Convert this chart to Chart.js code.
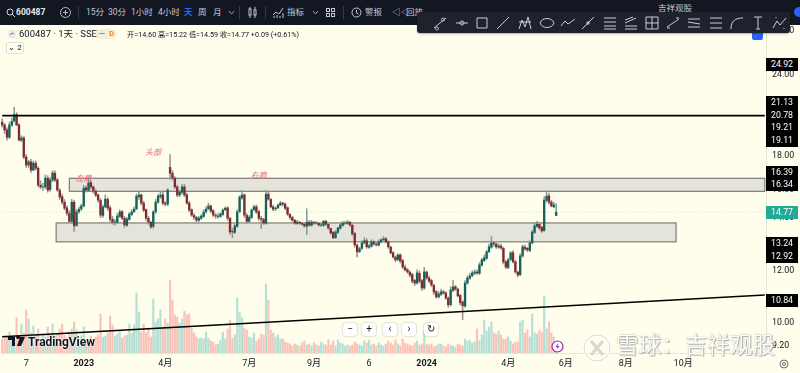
<!DOCTYPE html>
<html>
<head>
<meta charset="utf-8">
<title>600487</title>
<script src="https://cdn.jsdelivr.net/npm/chart.js@4/dist/chart.umd.min.js"></script>
<style>
html, body { margin: 0; padding: 0; background: #fffdec; overflow: hidden; }
body { width: 800px; height: 373px; position: relative; font-family: Roboto, "Noto Sans CJK SC", sans-serif; color: #131722; }
#chartBox { position: absolute; left: 0; top: 0; width: 800px; height: 373px; }
.abs { position: absolute; white-space: nowrap; line-height: 1; }
#topBar { position: absolute; left: 0; top: 0; width: 800px; height: 25px; background: #131722; }
#topBar .t { position: absolute; top: 8px; font-size: 8.5px; color: #c4c8d0; white-space: nowrap; line-height: 1; }
#drawBar { position: absolute; left: 417px; top: 12px; width: 373px; height: 21px; background: #1e222d; border-radius: 3px; box-shadow: 0 1px 2px rgba(0,0,0,.3); }
.tag { position: absolute; left: 766px; width: 32px; height: 13px; background: #000; color: #fff; font-size: 8.8px; line-height: 13px; text-align: center; }
.btn { position: absolute; top: 323px; width: 14px; height: 13px; background: #fff; border-radius: 3px; box-shadow: 0 0 2px rgba(0,0,0,.35); font-size: 10px; line-height: 12px; text-align: center; color: #131722; }
svg { position: absolute; overflow: visible; }
</style>
</head>
<body>
<div id="chartBox"><canvas id="priceChart" width="800" height="373"></canvas></div>

<div id="topBar">
  <svg style="left:6px;top:8px" width="9" height="9" fill="none" stroke="#d5d8de"><circle cx="4" cy="4" r="3"/><path d="M6 6l3 3"/></svg>
  <span class="t" style="left:16px;color:#e6e8ec;font-weight:700">600487</span>
  <svg style="left:60px;top:7px" width="11" height="11" fill="none" stroke="#b8bcc6"><circle cx="5.5" cy="5.5" r="5"/><path d="M3 5.5h5M5.5 3v5"/></svg>
  <svg style="left:78px;top:6px" width="1" height="13"><path d="M.5 0v13" stroke="#363a45"/></svg>
  <span class="t" style="left:86px">15分</span>
  <span class="t" style="left:108px">30分</span>
  <span class="t" style="left:131px">1小时</span>
  <span class="t" style="left:158px">4小时</span>
  <span class="t" style="left:184px;color:#2962ff;font-weight:700">天</span>
  <span class="t" style="left:198px">周</span>
  <span class="t" style="left:213px">月</span>
  <svg style="left:228px;top:11px" width="7" height="4" fill="none" stroke="#9a9ea8"><path d="M1 0l2.5 3L6 0"/></svg>
  <svg style="left:239px;top:6px" width="1" height="13"><path d="M.5 0v13" stroke="#363a45"/></svg>
  <svg style="left:248px;top:7px" width="9" height="11" fill="none" stroke="#c4c8d0"><path d="M2 0v11M7 0v11"/><rect x="1" y="2" width="2" height="6" fill="#131722"/><rect x="6" y="3" width="2" height="5" fill="#131722"/></svg>
  <svg style="left:265px;top:6px" width="1" height="13"><path d="M.5 0v13" stroke="#363a45"/></svg>
  <svg style="left:273px;top:7px" width="11" height="11" fill="none" stroke="#c4c8d0"><path d="M0 8l3-3 3 2 4-6M1 11V9M4 11V8M7 11V9M10 11V6"/></svg>
  <span class="t" style="left:287px">指标</span>
  <svg style="left:312px;top:11px" width="7" height="4" fill="none" stroke="#9a9ea8"><path d="M1 0l2.5 3L6 0"/></svg>
  <svg style="left:326px;top:8px" width="9" height="9" fill="none" stroke="#c4c8d0"><rect x=".5" y=".5" width="3" height="3"/><rect x="5.5" y=".5" width="3" height="3"/><rect x=".5" y="5.5" width="3" height="3"/><rect x="5.5" y="5.5" width="3" height="3"/></svg>
  <svg style="left:343px;top:6px" width="1" height="13"><path d="M.5 0v13" stroke="#363a45"/></svg>
  <svg style="left:351px;top:7px" width="11" height="11" fill="none" stroke="#c4c8d0"><circle cx="5.5" cy="5.5" r="4.5"/><path d="M5.5 3v3l2 1"/></svg>
  <span class="t" style="left:365px">警报</span>
  <span class="t" style="left:392px">◁◁</span>
  <span class="t" style="left:406px">回放</span>
  <span class="t" style="left:658px;top:4px">吉祥观股</span>
  <svg style="left:794px;top:7px" width="10" height="10"><circle cx="5" cy="5" r="5" fill="#2962ff"/></svg>
</div>
<div class="abs" style="left:752px;top:33px;width:11px;height:7px;background:#2962ff;border-radius:0 0 2px 2px"></div>
<div id="drawBar"></div>

<svg style="left:7px;top:29px" width="10" height="10"><circle cx="5" cy="5" r="4.5" fill="#e8ecf4"/><path d="M3 6l2-2 2 1" stroke="#d0504f" fill="none"/></svg>
<span class="abs" style="left:19px;top:29px;font-size:9.5px">600487 · 1天 · SSE</span>
<div class="abs" style="left:96px;top:29px;width:21px;height:10px;border-radius:5px;background:#efeee0"></div>
<span class="abs" style="left:99px;top:30px;font-size:8px;color:#787b86;font-weight:700">—</span>
<div class="abs" style="left:107px;top:29px;width:10px;height:10px;border-radius:5px;background:#fff1d6"></div>
<span class="abs" style="left:109px;top:30px;font-size:8px;color:#f68410;font-weight:700">D</span>
<span class="abs" style="left:127px;top:31px;font-size:7.2px">开=14.60 高=15.22 低=14.59 收=14.77 +0.09 (+0.61%)</span>
<div class="abs" style="left:6px;top:42px;width:16px;height:10px;border:1px solid #e0dfd0;border-radius:2px;background:#fffef5;font-size:8px;line-height:10px;text-align:center">⌄ 2</div>

<div class="tag" style="top:58px">24.92</div>
<div class="tag" style="top:96px">21.13</div>
<div class="tag" style="top:109px">20.78</div>
<div class="tag" style="top:121px">19.21</div>
<div class="tag" style="top:134px">19.11</div>
<div class="tag" style="top:166px">16.39</div>
<div class="tag" style="top:178px">16.34</div>
<div class="tag" style="top:206px;background:#22ab94">14.77</div>
<div class="tag" style="top:237px">13.24</div>
<div class="tag" style="top:250px">12.92</div>
<div class="tag" style="top:294px">10.84</div>

<div class="btn" style="left:343px">−</div>
<div class="btn" style="left:362px">+</div>
<div class="btn" style="left:383px">‹</div>
<div class="btn" style="left:402px">›</div>
<div class="btn" style="left:424px">↻</div>

<svg style="left:8px;top:337px" width="18" height="10" fill="#131722"><path d="M0 0h7v9H4V3H0zM8 0a2 2 0 1 1 0 .01M12 0h5l-4 9H9z"/></svg>
<span class="abs" style="left:28px;top:336px;font-size:12px;font-weight:700;letter-spacing:-.05px;text-shadow:0 0 2px #fff,0 0 2px #fff">TradingView</span>

<svg style="left:551px;top:340px" width="13" height="13"><circle cx="6.5" cy="6.5" r="5.5" fill="#fff" stroke="#9c27b0" stroke-width="1.2"/><path d="M7.5 3L4.5 7h2l-1 3 3-4h-2z" fill="#9c27b0"/></svg>
<svg style="left:582px;top:333px" width="30" height="30" fill="none"><circle cx="15" cy="15" r="13" stroke="#fff" stroke-width="3"/><circle cx="15" cy="15" r="13" stroke="#bdbdb5" stroke-width=".6"/><path d="M9 8l12 14M21 8L9 22" stroke="#d8d8d0" stroke-width="3"/></svg>
<span class="abs" style="left:616px;top:334px;font-size:22.5px;color:#fff;letter-spacing:.3px;text-shadow:0 0 1px #8d8d86,1px 1px 1px #b0b0a8">雪球：吉祥观股</span>
<svg style="left:779px;top:359px" width="10" height="10" fill="none" stroke="#6a6d78"><circle cx="5" cy="5" r="4"/><circle cx="5" cy="5" r="1.5"/></svg>

<script>
// bar slots on the time axis, the right part is the empty future space
const slotCount = 319;
const tickSlots = [10, 34, 68, 103, 130, 153, 177, 211, 235, 260, 284];
const tickNames = ['7', '2023', '4月', '7月', '9月', '6', '2024', '4月', '6月', '8月', '10月'];
const priceTicks = [28, 24, 18, 16, 14.5, 12, 10, 9.2];

const closes = [
  20.10,19.75,19.25,20.10,20.35,20.85,20.10,19.06,19.20,17.95,
  17.45,17.64,17.14,17.57,17.26,16.26,16.15,16.15,16.67,15.97,
  16.55,16.97,16.55,15.97,15.58,15.30,14.98,14.72,14.30,15.30,
  14.07,14.78,14.93,15.10,16.08,15.97,16.38,16.15,15.92,15.69,
  15.41,14.62,15.05,15.47,14.98,14.41,14.26,14.26,14.57,14.78,
  14.46,14.12,14.41,14.67,14.78,14.93,15.63,15.69,15.25,14.88,
  14.46,14.26,14.02,14.78,15.30,15.63,15.69,15.25,15.20,15.97,
  16.95,16.67,16.15,15.69,15.86,16.15,15.69,15.25,14.88,14.62,
  14.51,14.36,14.46,14.57,14.78,14.93,15.10,14.83,14.62,14.57,
  14.57,14.67,14.88,14.98,14.46,13.77,13.77,14.07,14.78,15.58,
  15.69,14.62,14.30,14.51,14.88,15.05,14.78,14.46,14.41,14.21,
  15.74,15.47,15.05,14.93,14.98,15.15,15.25,15.20,14.98,14.67,
  14.51,14.36,14.21,14.26,14.21,14.16,14.07,14.26,14.12,14.26,
  14.21,14.21,14.12,14.12,14.30,14.16,13.97,13.73,13.49,13.77,
  13.97,14.12,14.21,14.21,14.26,14.12,13.68,13.16,12.84,12.98,
  13.25,13.35,13.07,13.11,13.30,13.21,13.16,13.30,13.39,13.44,
  13.30,13.07,12.79,12.61,12.48,12.70,12.43,12.17,12.04,11.96,
  11.83,11.58,11.50,11.92,11.58,11.30,11.96,11.71,11.58,11.42,
  11.14,10.95,11.06,11.14,11.10,10.91,10.65,11.22,11.34,11.26,
  10.99,10.73,10.61,11.50,11.71,11.79,11.92,11.96,11.92,12.26,
  12.48,12.57,12.84,13.07,13.25,13.21,13.07,13.11,13.02,12.39,
  12.17,12.48,12.79,12.39,11.96,11.83,12.66,13.07,12.98,12.93,
  13.25,13.77,14.07,14.16,13.97,13.82,15.41,15.63,15.30,15.10,
  15.15,14.77
];
const opens = [
  20.30,20.10,19.75,19.25,20.10,20.40,20.85,20.10,19.05,19.20,
  17.95,17.45,17.64,17.14,17.55,17.25,16.25,16.15,16.15,16.65,
  16.00,16.55,16.95,16.55,15.95,15.60,15.30,15.00,14.70,14.30,
  15.30,14.10,14.80,14.95,15.10,16.10,15.95,16.40,16.15,15.90,
  15.70,15.40,14.60,15.05,15.45,15.00,14.40,14.25,14.25,14.55,
  14.80,14.45,14.10,14.40,14.65,14.80,14.95,15.60,15.70,15.25,
  14.90,14.45,14.25,14.05,14.80,15.30,15.60,15.70,15.25,15.20,
  17.30,16.95,16.65,16.15,15.70,15.85,16.15,15.70,15.25,14.90,
  14.60,14.50,14.35,14.45,14.55,14.80,14.95,15.10,14.85,14.60,
  14.55,14.55,14.65,14.90,15.00,14.45,13.80,13.75,14.05,14.80,
  15.55,15.70,14.60,14.30,14.50,14.90,15.05,14.80,14.45,14.40,
  14.20,15.75,15.45,15.05,14.95,15.00,15.15,15.25,15.20,15.00,
  14.65,14.50,14.35,14.20,14.25,14.20,14.15,14.05,14.25,14.10,
  14.25,14.20,14.20,14.10,14.10,14.30,14.15,13.95,13.75,13.50,
  13.75,13.95,14.10,14.20,14.20,14.25,14.10,13.70,13.15,12.85,
  13.00,13.25,13.35,13.05,13.10,13.30,13.20,13.15,13.30,13.40,
  13.45,13.30,13.05,12.80,12.60,12.50,12.70,12.45,12.15,12.05,
  11.95,11.85,11.60,11.50,11.90,11.60,11.30,11.95,11.70,11.60,
  11.40,11.15,10.95,11.05,11.15,11.10,10.90,10.65,11.20,11.35,
  11.25,11.00,10.75,10.60,11.50,11.70,11.80,11.90,11.95,11.90,
  12.25,12.45,12.55,12.85,13.05,13.25,13.20,13.05,13.10,13.00,
  12.40,12.15,12.50,12.80,12.40,11.95,11.85,12.65,13.05,13.00,
  12.90,13.25,13.75,14.05,14.15,14.00,13.85,15.40,15.65,15.30,
  15.05,14.60
];
const highs = [
  20.55,20.20,19.90,20.30,20.60,21.40,21.00,20.20,19.35,19.30,
  18.10,17.75,17.80,17.70,17.70,17.35,16.50,16.35,16.85,16.80,
  16.70,17.10,17.10,16.65,16.05,15.75,15.45,15.10,14.85,15.45,
  15.40,14.90,15.05,15.20,16.25,16.20,16.70,16.50,16.20,16.00,
  15.75,15.50,15.15,15.70,15.55,15.10,14.55,14.40,14.70,14.90,
  14.85,14.55,14.50,14.75,14.90,15.05,15.75,15.85,15.75,15.35,
  14.95,14.55,14.30,14.85,15.45,15.75,15.90,15.85,15.35,16.05,
  18.10,17.10,16.75,16.25,15.95,16.30,16.30,15.80,15.35,14.95,
  14.70,14.55,14.55,14.65,14.90,15.05,15.25,15.15,14.90,14.70,
  14.70,14.75,14.95,15.05,15.05,14.50,13.95,14.15,14.90,15.65,
  15.95,15.75,14.70,14.60,14.95,15.15,15.15,14.85,14.55,14.45,
  15.95,15.85,15.50,15.15,15.05,15.20,15.35,15.30,15.25,15.05,
  14.70,14.55,14.40,14.35,14.30,14.25,14.20,14.95,14.35,14.35,
  14.30,14.30,14.25,14.20,14.35,14.35,14.20,13.95,13.80,13.85,
  14.00,14.20,14.30,14.30,14.35,14.30,14.15,13.75,13.20,13.05,
  13.35,13.50,13.45,13.20,13.40,13.35,13.25,13.40,13.45,13.55,
  13.50,13.35,13.10,12.85,12.65,12.75,12.75,12.50,12.25,12.10,
  12.00,11.90,11.65,12.05,12.00,11.65,12.15,12.00,11.80,11.65,
  11.45,11.20,11.15,11.25,11.20,11.15,10.95,11.35,11.60,11.40,
  11.30,11.05,10.80,11.60,11.80,11.90,12.00,12.05,12.05,12.35,
  12.55,12.70,12.90,13.20,13.55,13.30,13.25,13.20,13.20,13.05,
  12.45,12.55,12.85,12.90,12.45,12.00,12.75,13.15,13.15,13.05,
  13.35,13.85,14.20,14.30,14.25,14.05,15.60,15.95,15.80,15.40,
  15.30,15.22
];
const lows = [
  19.95,19.50,19.05,19.15,20.00,20.30,20.05,19.00,18.95,17.85,
  17.30,17.30,17.00,17.10,17.15,16.15,16.05,15.95,16.05,15.85,
  15.90,16.45,16.45,15.90,15.45,15.20,14.90,14.60,14.25,14.20,
  13.80,14.05,14.70,14.85,15.05,15.85,15.90,16.05,15.80,15.60,
  15.30,14.50,14.50,15.00,14.85,14.30,14.15,14.10,14.20,14.50,
  14.40,14.00,14.05,14.35,14.60,14.75,14.90,15.45,15.15,14.80,
  14.35,14.15,13.95,13.95,14.70,15.25,15.50,15.15,15.10,15.10,
  16.60,16.55,16.05,15.60,15.60,15.75,15.60,15.20,14.80,14.55,
  14.40,14.25,14.30,14.40,14.50,14.70,14.90,14.75,14.55,14.45,
  14.45,14.50,14.60,14.85,14.35,13.65,13.50,13.70,14.00,14.75,
  15.45,14.50,14.20,14.25,14.45,14.85,14.70,14.35,13.95,14.15,
  14.15,15.40,15.00,14.85,14.85,14.95,15.10,15.10,14.90,14.60,
  14.40,14.30,14.15,14.15,14.15,14.10,14.00,13.65,14.05,14.05,
  14.15,14.15,14.05,14.05,14.05,14.10,13.90,13.65,13.45,13.45,
  13.70,13.90,14.05,14.15,14.15,14.05,13.60,13.05,12.60,12.80,
  12.95,13.20,13.00,13.00,13.05,13.15,13.10,13.10,13.25,13.35,
  13.25,13.00,12.75,12.55,12.40,12.45,12.35,12.10,12.00,11.90,
  11.75,11.50,11.40,11.45,11.50,11.20,11.25,11.65,11.50,11.35,
  11.05,10.90,10.90,11.00,11.05,10.85,10.55,10.60,11.15,11.20,
  10.95,10.65,10.10,10.55,11.45,11.65,11.75,11.85,11.85,11.85,
  12.20,12.40,12.50,12.80,13.00,13.10,13.00,13.00,12.95,12.30,
  12.10,12.10,12.45,12.35,11.90,11.75,11.80,12.60,12.90,12.85,
  12.85,13.20,13.70,14.00,13.90,13.75,13.80,15.30,15.20,15.05,
  15.00,14.59
];
const volumes = [
  14,17,16,21,13,15,35,17,29,20,
  43,34,20,27,18,24,14,19,16,26,
  19,29,17,19,24,29,18,15,21,24,
  31,23,14,17,26,12,13,17,14,16,
  18,39,16,17,20,37,28,17,19,22,
  15,17,18,29,20,28,60,41,21,29,
  20,24,16,54,31,34,43,26,34,30,
  73,53,38,36,30,34,42,38,39,25,
  20,16,14,15,14,21,15,12,11,8,
  9,13,21,14,24,33,15,18,55,41,
  35,25,23,16,15,20,12,14,19,18,
  69,53,23,20,16,18,14,14,11,10,
  9,7,9,8,7,10,12,8,9,7,
  10,8,7,11,9,8,13,8,12,7,
  13,10,9,7,8,7,8,11,9,8,
  7,12,10,13,8,9,7,10,8,7,
  9,12,10,8,13,9,7,14,10,9,
  8,7,10,12,8,9,21,9,8,9,
  6,7,9,9,7,6,9,8,7,6,
  9,8,7,14,12,13,10,11,24,12,
  18,33,22,26,31,20,19,22,18,14,
  14,16,12,9,11,11,31,33,20,23,
  16,39,20,19,23,21,57,24,31,20,
  16,10
];

const zoneStartSlots = [28, 22.5];
const zoneEndSlots = [318, 281];
const zoneTops = [16.65, 14.22];
const zoneBottoms = [15.9, 13.30];
const noteNames = ['左肩', '头部', '右肩'];
const noteSlots = [34, 63, 107];
const notePrices = [16.5, 18.05, 16.65];

const lastPrice = 14.77;
const resistance = 20.78;
const trendStart = 9.51;
const trendEnd = 11.02;

const slots = Array.from({ length: slotCount }, (_, i) => i);

function edgeLine(first, last) {
    const line = new Array(slotCount).fill(null);
    line[0] = first;
    line[slotCount - 1] = last;
    return line;
}

// shaded zones and the red notes are placed through the chart's own scales
const overlayPlugin = {
    id: 'overlay',
    beforeDatasetsDraw(chart) {
        const { ctx, scales: { x, y } } = chart;
        ctx.save();
        zoneTops.forEach((top, i) => {
            const x0 = x.getPixelForValue(zoneStartSlots[i]);
            const x1 = x.getPixelForValue(zoneEndSlots[i]);
            const y0 = y.getPixelForValue(top);
            const y1 = y.getPixelForValue(zoneBottoms[i]);
            ctx.fillStyle = '#e5e4da';
            ctx.fillRect(x0, y0, x1 - x0, y1 - y0);
            ctx.strokeStyle = '#7d7d73';
            ctx.lineWidth = 1.2;
            ctx.strokeRect(x0, y0, x1 - x0, y1 - y0);
        });
        ctx.restore();
    },
    afterDatasetsDraw(chart) {
        const { ctx, scales: { x, y } } = chart;
        ctx.save();
        ctx.fillStyle = '#ef5f6e';
        ctx.font = 'italic 8px "Noto Sans CJK SC"';
        ctx.textAlign = 'center';
        noteNames.forEach((name, i) => {
            ctx.fillText(name, x.getPixelForValue(noteSlots[i]), y.getPixelForValue(notePrices[i]));
        });
        ctx.restore();
    }
};

const upBody = '#17615a', downBody = '#7d2a30';
const upWick = '#7f9f9a', downWick = '#a08f8c';
const upVol = '#b4e0d5', downVol = '#fbc2b8';
const rising = closes.map((c, i) => c >= opens[i]);

new Chart(document.getElementById('priceChart'), {
    type: 'bar',
    plugins: [overlayPlugin],
    data: {
        labels: slots,
        datasets: [
            {
                type: 'line',
                data: edgeLine(resistance, resistance),
                borderColor: '#000', borderWidth: 1.6, pointRadius: 0, spanGaps: true, order: 1
            },
            {
                type: 'line',
                data: edgeLine(trendStart, trendEnd),
                borderColor: '#000', borderWidth: 1.6, pointRadius: 0, spanGaps: true, order: 1
            },
            {
                type: 'line',
                data: edgeLine(lastPrice, lastPrice),
                borderColor: 'rgba(34,171,148,.25)', borderWidth: 1, borderDash: [1, 2], pointRadius: 0, spanGaps: true, order: 6
            },
            {
                data: closes.map((c, i) => [opens[i], c]),
                backgroundColor: rising.map(r => r ? upBody : downBody),
                barThickness: 1.7, grouped: false, order: 2
            },
            {
                data: highs.map((h, i) => [lows[i], h]),
                backgroundColor: rising.map(r => r ? upWick : downWick),
                barThickness: 0.9, grouped: false, order: 3
            },
            {
                data: volumes,
                yAxisID: 'yVol',
                backgroundColor: rising.map(r => r ? upVol : downVol),
                barThickness: 1.5, grouped: false, order: 5
            }
        ]
    },
    options: {
        responsive: false,
        animation: false,
        layout: { padding: { left: 1, top: 25, right: 0, bottom: 0 } },
        plugins: { legend: { display: false }, tooltip: { enabled: false } },
        scales: {
            x: {
                grid: { display: false, drawTicks: false },
                border: { color: '#e6e5d6' },
                afterFit(scale) { scale.height = 20; scale.paddingLeft = 0; scale.paddingRight = 0; },
                ticks: {
                    autoSkip: false, maxRotation: 0, padding: 5,
                    color: '#131722',
                    font: ctx => ({
                        family: 'Roboto, "Noto Sans CJK SC"',
                        size: 9,
                        weight: /^20/.test(tickNames[tickSlots.indexOf(ctx.index)] || '') ? '700' : '400'
                    }),
                    callback(value, index) {
                        const at = tickSlots.indexOf(index);
                        return at < 0 ? '' : tickNames[at];
                    }
                }
            },
            y: {
                type: 'logarithmic',
                position: 'right',
                min: 8.98,
                max: 28.62,
                grid: { display: false, drawTicks: false },
                border: { color: '#e6e5d6' },
                afterFit(scale) { scale.width = 34; },
                afterBuildTicks(scale) { scale.ticks = priceTicks.map(v => ({ value: v })); },
                ticks: {
                    autoSkip: false, padding: 6,
                    color: '#131722',
                    font: { family: 'Roboto', size: 8.8 },
                    callback: value => Number(value).toFixed(2)
                }
            },
            yVol: { display: false, min: 0, max: 328 }
        }
    }
});

// drawing tools strip, one small svg per tool
const toolIcons = [
    [440, 'M-6 5L6-5M-3 4a1.5 1.5 0 1 0 .01 0M3-5a1.5 1.5 0 1 0 .01 0'],
    [462, 'M-6 0H6M0-2a2 2 0 1 0 .01 0'],
    [482, 'M-5-5H5V5H-5Z'],
    [503, 'M-6 6L6-6'],
    [525, 'M-6 6L-3-3 0 4 3-6 6 6M-6-1H6'],
    [547, 'M-7 0C-5-6 5-6 7 0C5 6-5 6-7 0'],
    [568, 'M-7 3L-3-2 0 1 3-1 7-4'],
    [588, 'M-6 6L6-6M-1-1h2v2h-2Z'],
    [610, 'M-6-5H6M-6-1H6M-6 3H6M-6 6H6'],
    [631, 'M-6 6H6M-6 3H6M-6 0L5-5M-6-3L2-6'],
    [652, 'M-6-6H6V6H-6ZM-6 0H6M0-6V6'],
    [673, 'M-6 4L6-4M-6 5H-3M3-5H6'],
    [694, 'M-6-4H6M-6 4H6M-6-1L6 1'],
    [716, 'M-6-5H6M-6 0H6M-6 5H6'],
    [737, 'M-6 6C-6-2-2-5 6-5'],
    [758, 'M-4-6H4M0-6V6M-2 6H2'],
    [780, 'M-7 5L-3-2 0 2 6-5M-4-6V-5M4 5V6']
];
const toolHolder = document.getElementById('drawBar');
toolIcons.forEach(([x, path]) => {
    const svg = document.createElementNS('http://www.w3.org/2000/svg', 'svg');
    svg.setAttribute('width', '1');
    svg.setAttribute('height', '1');
    svg.style.left = (x - 417) + 'px';
    svg.style.top = '11px';
    const p = document.createElementNS('http://www.w3.org/2000/svg', 'path');
    p.setAttribute('d', path);
    p.setAttribute('fill', 'none');
    p.setAttribute('stroke', '#c9ccd4');
    svg.appendChild(p);
    toolHolder.appendChild(svg);
});
</script>
</body>
</html>
